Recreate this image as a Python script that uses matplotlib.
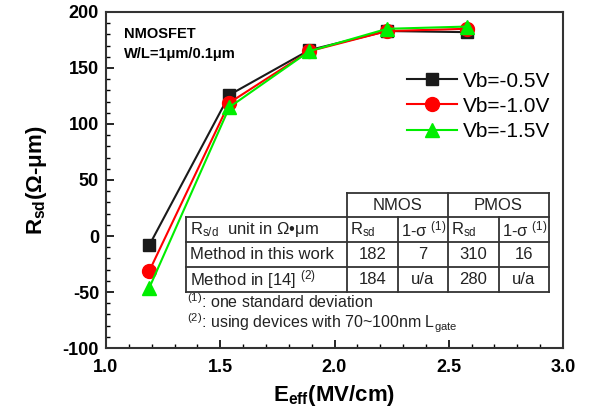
import matplotlib
matplotlib.use("Agg")
import matplotlib.pyplot as plt
from matplotlib.lines import Line2D
from matplotlib.ticker import MultipleLocator

plt.rcParams['font.family'] = ['Liberation Sans', 'DejaVu Sans']
plt.rcParams['mathtext.fontset'] = 'custom'
plt.rcParams['mathtext.rm'] = 'Liberation Sans'
plt.rcParams['mathtext.it'] = 'Liberation Sans:italic'
plt.rcParams['mathtext.bf'] = 'Liberation Sans:bold'

# Data
eeff = [1.19, 1.54, 1.89, 2.23, 2.58]
rsd_05 = [-8, 126, 166, 183, 182]
rsd_10 = [-31, 119, 165, 183, 185]
rsd_15 = [-46, 115, 165, 185, 187]
labels = ["Vb=-0.5V", "Vb=-1.0V", "Vb=-1.5V"]
colors = ["#1a1a1a", "#ff0000", "#00ee00"]
markers = ["s", "o", "^"]

xticks = [1.0, 1.5, 2.0, 2.5, 3.0]
xtick_labels = ["1.0", "1.5", "2.0", "2.5", "3.0"]
yticks = [-100, -50, 0, 50, 100, 150, 200]
ytick_labels = ["-100", "-50", "0", "50", "100", "150", "200"]

table_header = ["NMOS", "PMOS"]
table_rows = [
    ["R$_{\\mathrm{s/d}}$  unit in Ω•μm", "R$_{\\mathrm{sd}}$", "1-σ $^{(1)}$", "R$_{\\mathrm{sd}}$", "1-σ $^{(1)}$"],
    ["Method in this work", "182", "7", "310", "16"],
    ["Method in [14] $^{(2)}$", "184", "u/a", "280", "u/a"],
]
footnotes = ["$^{(1)}$: one standard deviation",
             "$^{(2)}$: using devices with 70~100nm L$_{\\mathrm{gate}}$"]

W, H = 594, 415
fig = plt.figure(figsize=(W / 100, H / 100), dpi=100)
ax = fig.add_axes([106 / W, 1 - 348 / H, 457 / W, 336 / H])

series = [rsd_05, rsd_10, rsd_15]
msizes = [9, 10, 10]
for ys, lab, c, m, ms in zip(series, labels, colors, markers, msizes):
    ax.plot(eeff, ys, color=c, marker=m, markersize=ms, linewidth=1.5, label=lab)

ax.set_xlim(1.0, 3.0)
ax.set_ylim(-100, 200)
ax.set_xticks(xticks, xtick_labels, fontweight='bold')
ax.set_yticks(yticks, ytick_labels, fontweight='bold')
ax.xaxis.set_minor_locator(MultipleLocator(0.1))
ax.yaxis.set_minor_locator(MultipleLocator(10))
ax.tick_params(which='both', direction='in', top=False, right=False)
ax.tick_params(which='major', length=6, width=1.2, labelsize=13, pad=5)
ax.tick_params(axis='x', which='major', pad=8)
ax.tick_params(which='minor', length=3, width=1)
for s in ax.spines.values():
    s.set_linewidth(1.5)
    s.set_color('#333333')

ax.set_xlabel("E$_{\\mathbf{eff}}$(MV/cm)", fontsize=16, fontweight='bold', labelpad=5)
ax.set_ylabel("R$_{\\mathbf{sd}}$(Ω-μm)", fontsize=16, fontweight='bold', labelpad=10)

ax.text(0.04, 0.955, "NMOSFET", transform=ax.transAxes, fontsize=10.5,
        fontweight='bold', va='top', ha='left')
ax.text(0.04, 0.895, "W/L=1μm/0.1μm", transform=ax.transAxes, fontsize=10.5,
        fontweight='bold', va='top', ha='left')

leg = ax.legend(loc='upper right', bbox_to_anchor=(1.0, 0.86), frameon=False,
                fontsize=15, handlelength=2.4, handletextpad=0.3,
                labelspacing=0.3, borderaxespad=0.2)

# Table drawn in pixel coordinates
def fx(x):
    return x / W

def fy(y):
    return 1 - y / H

cols = [186, 347, 398, 448, 499, 549]
rows_y = [193, 217, 242, 267, 292]
lc = '#333333'
lw = 1.3
fig.add_artist(Line2D([fx(347), fx(549)], [fy(193), fy(193)], color=lc, lw=lw))
for x in [347, 448, 549]:
    fig.add_artist(Line2D([fx(x), fx(x)], [fy(193), fy(217)], color=lc, lw=lw))
for y in rows_y[1:]:
    fig.add_artist(Line2D([fx(186), fx(549)], [fy(y), fy(y)], color=lc, lw=lw))
for x in cols:
    fig.add_artist(Line2D([fx(x), fx(x)], [fy(217), fy(292)], color=lc, lw=lw))

fig.text(fx((347 + 448) / 2), fy(205), table_header[0], fontsize=12,
         ha='center', va='center', color='#222222')
fig.text(fx((448 + 549) / 2), fy(205), table_header[1], fontsize=12,
         ha='center', va='center', color='#222222')
for ri, row in enumerate(table_rows):
    yc = (rows_y[ri + 1] + rows_y[ri + 2]) / 2
    for ci, val in enumerate(row):
        if ci == 0:
            fig.text(fx(cols[0] + 4), fy(yc), val, fontsize=12, ha='left',
                     va='center', color='#222222')
        elif ri == 0:
            fig.text(fx(cols[ci] + 3), fy(yc), val, fontsize=12, ha='left',
                     va='center', color='#222222')
        else:
            fig.text(fx((cols[ci] + cols[ci + 1]) / 2), fy(yc), val, fontsize=12,
                     ha='center', va='center', color='#222222')

fig.text(fx(187), fy(302), footnotes[0], fontsize=11.5, ha='left', va='center', color='#222222')
fig.text(fx(187), fy(323), footnotes[1], fontsize=11.5, ha='left', va='center', color='#222222')

fig.savefig("out.png", dpi=100)
